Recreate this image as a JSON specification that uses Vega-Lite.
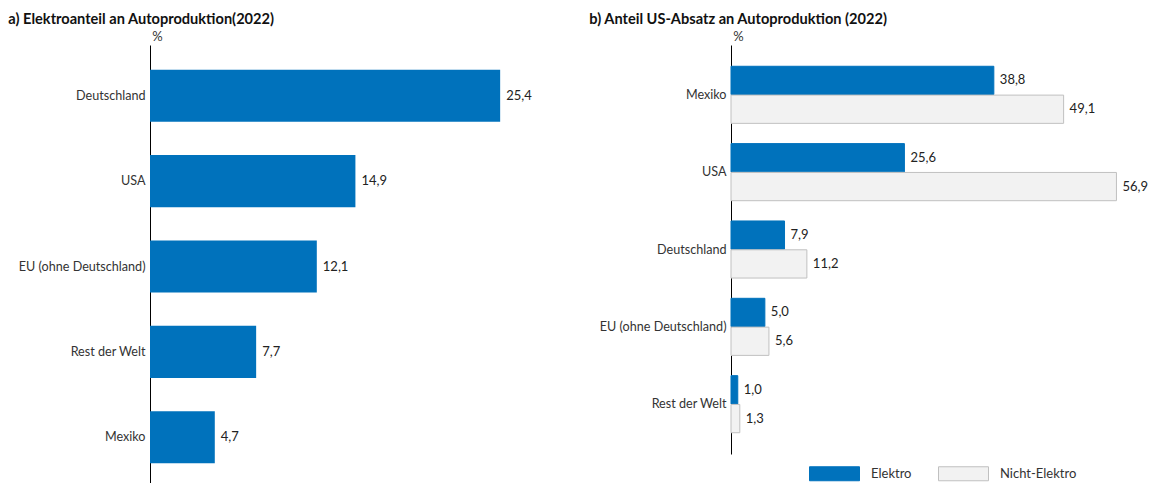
{
  "$schema": "https://vega.github.io/schema/vega-lite/v6.json",
  "padding": {"left": 8, "top": 12, "right": 2, "bottom": 0},
  "background": "white",
  "config": {
    "font": "Lato",
    "view": {"stroke": null},
    "locale": {"number": {"decimal": ",", "thousands": ".", "grouping": [3], "currency": ["", " €"]}},
    "title": {"fontSize": 14.6, "fontWeight": "bold", "color": "#111", "anchor": "start", "frame": "bounds", "offset": 3},
    "axis": {"labelFont": "Lato", "labelFontSize": 12.6, "labelColor": "#333", "titleFont": "Lato", "titleFontSize": 13, "titleColor": "#333", "titleFontWeight": "normal"},
    "concat": {"spacing": 53}
  },
  "hconcat": [
    {
      "title": {"text": "a) Elektroanteil an Autoproduktion(2022)", "dx": -10},
      "width": 386,
      "height": 443,
      "data": {"values": [
        {"land": "Deutschland", "wert": 25.4},
        {"land": "USA", "wert": 14.9},
        {"land": "EU (ohne Deutschland)", "wert": 12.1},
        {"land": "Rest der Welt", "wert": 7.7},
        {"land": "Mexiko", "wert": 4.7}
      ]},
      "encoding": {
        "y": {"field": "land", "type": "nominal", "sort": null,
              "scale": {"paddingInner": 0.39, "paddingOuter": 0.29},
              "axis": {"title": "%", "titleAngle": 0, "titleAlign": "center", "titleBaseline": "bottom", "titleX": 7, "titleY": -2,
                       "domainColor": "#000", "domainWidth": 1, "ticks": false, "labelPadding": 5, "grid": false}},
        "x": {"field": "wert", "type": "quantitative", "scale": {"domain": [0, 28], "nice": false}, "axis": null}
      },
      "layer": [
        {"mark": {"type": "bar", "color": "#0072BC"}},
        {"mark": {"type": "text", "align": "left", "dx": 6, "fontSize": 13, "color": "#222"},
         "encoding": {"text": {"field": "wert", "type": "quantitative", "format": ".1f"}}}
      ]
    },
    {
      "title": {"text": "b) Anteil US-Absatz an Autoproduktion (2022)", "dx": -10},
      "width": 420,
      "height": 409,
      "data": {"values": [
        {"land": "Mexiko", "typ": "Elektro", "wert": 38.8},
        {"land": "Mexiko", "typ": "Nicht-Elektro", "wert": 49.1},
        {"land": "USA", "typ": "Elektro", "wert": 25.6},
        {"land": "USA", "typ": "Nicht-Elektro", "wert": 56.9},
        {"land": "Deutschland", "typ": "Elektro", "wert": 7.9},
        {"land": "Deutschland", "typ": "Nicht-Elektro", "wert": 11.2},
        {"land": "EU (ohne Deutschland)", "typ": "Elektro", "wert": 5.0},
        {"land": "EU (ohne Deutschland)", "typ": "Nicht-Elektro", "wert": 5.6},
        {"land": "Rest der Welt", "typ": "Elektro", "wert": 1.0},
        {"land": "Rest der Welt", "typ": "Nicht-Elektro", "wert": 1.3}
      ]},
      "encoding": {
        "y": {"field": "land", "type": "nominal", "sort": null,
              "scale": {"paddingInner": 0.262, "paddingOuter": 0.275},
              "axis": {"title": "%", "titleAngle": 0, "titleAlign": "center", "titleBaseline": "bottom", "titleX": 7, "titleY": -2,
                       "domainColor": "#000", "domainWidth": 1, "ticks": false, "labelPadding": 5, "grid": false}},
        "yOffset": {"field": "typ", "type": "nominal", "sort": ["Elektro", "Nicht-Elektro"], "scale": {"paddingInner": 0.02}},
        "x": {"field": "wert", "type": "quantitative", "scale": {"domain": [0, 62], "nice": false}, "axis": null}
      },
      "layer": [
        {"mark": {"type": "bar", "strokeWidth": 1},
         "encoding": {
           "fill": {"field": "typ", "type": "nominal", "sort": ["Elektro", "Nicht-Elektro"],
                    "scale": {"domain": ["Elektro", "Nicht-Elektro"], "range": ["#0072BC", "#F2F2F2"]},
                    "legend": {"title": null, "orient": "none", "direction": "horizontal", "legendX": 659, "legendY": 403,
                               "symbolType": "M-1,-0.28H1V0.28H-1Z", "symbolSize": 2500, "labelFontSize": 13, "labelColor": "#333",
                               "labelFont": "Lato", "columnPadding": 24, "labelOffset": 11, "symbolStrokeWidth": 1}},
           "stroke": {"field": "typ", "type": "nominal", "sort": ["Elektro", "Nicht-Elektro"],
                      "scale": {"domain": ["Elektro", "Nicht-Elektro"], "range": ["#0072BC", "#C0C0C0"]},
                      "legend": {"title": null, "orient": "none", "direction": "horizontal", "legendX": 659, "legendY": 403,
                               "symbolType": "M-1,-0.28H1V0.28H-1Z", "symbolSize": 2500, "labelFontSize": 13, "labelColor": "#333",
                               "labelFont": "Lato", "columnPadding": 24, "labelOffset": 11, "symbolStrokeWidth": 1}}
         }},
        {"mark": {"type": "text", "align": "left", "dx": 6, "fontSize": 13, "color": "#222"},
         "encoding": {"text": {"field": "wert", "type": "quantitative", "format": ".1f"}}}
      ]
    }
  ]
}
